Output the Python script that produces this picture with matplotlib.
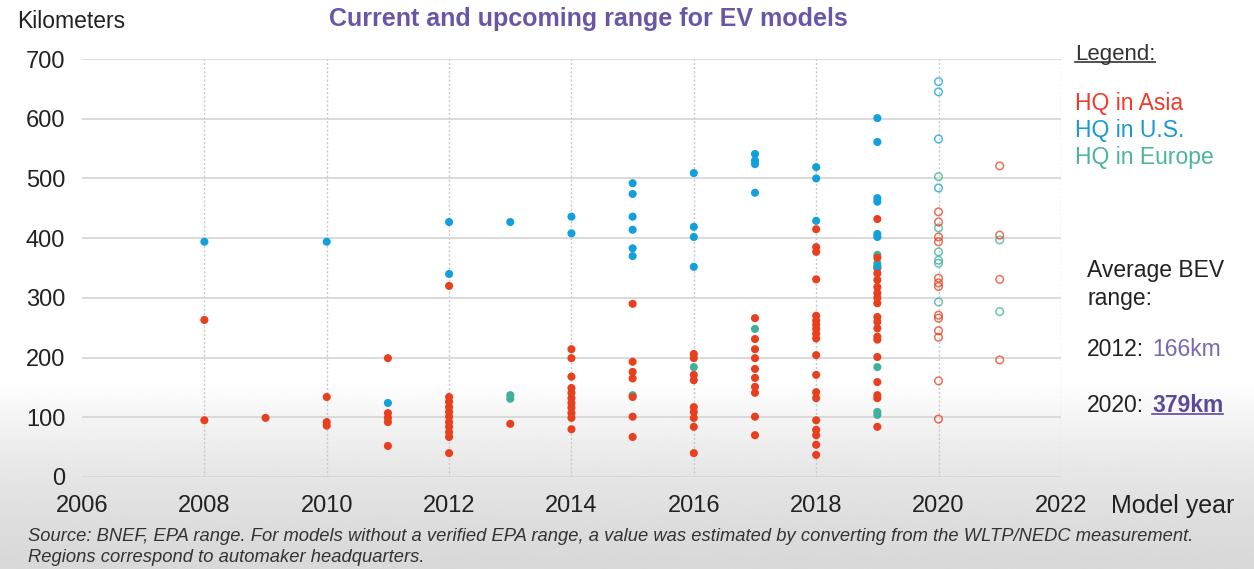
import numpy as np
import matplotlib.pyplot as plt
from matplotlib.lines import Line2D

# Range (km) per model year, by automaker HQ region
asia_now = {2008: [263, 95], 2009: [99], 2010: [134, 92, 86],
            2011: [199, 107, 99, 92, 52],
            2012: [320, 134, 126, 117, 109, 101, 92, 84, 75, 67, 40],
            2013: [89],
            2014: [214, 199, 168, 149, 141, 132, 124, 116, 107, 99, 80],
            2015: [290, 193, 176, 165, 134, 101, 67],
            2016: [206, 199, 171, 162, 117, 109, 99, 84, 40],
            2017: [266, 231, 214, 199, 181, 166, 151, 141, 101, 70],
            2018: [415, 385, 377, 331, 270, 262, 255, 248, 240, 232, 204,
                   171, 142, 132, 95, 79, 70, 54, 37],
            2019: [432, 367, 350, 341, 330, 318, 308, 300, 291, 268, 260,
                   249, 235, 230, 201, 159, 137, 132, 84]}
us_now = {2008: [394], 2010: [394], 2011: [124], 2012: [427, 340],
          2013: [427], 2014: [436, 408],
          2015: [492, 474, 436, 414, 383, 370],
          2016: [509, 419, 402, 352], 2017: [541, 530, 524, 476],
          2018: [519, 500, 429],
          2019: [601, 561, 467, 461, 407, 402, 353]}
europe_now = {2013: [137, 131], 2015: [137], 2016: [184], 2017: [248],
              2019: [372, 358, 184, 109, 104]}

# upcoming models (hollow markers)
asia_next = {2020: [444, 427, 402, 394, 333, 325, 319, 271, 266, 245, 234, 161, 97],
             2021: [521, 405, 331, 196]}
us_next = {2020: [662, 645, 566, 484]}
europe_next = {2020: [503, 417, 377, 363, 358, 293], 2021: [397, 277]}

red, blue, teal = '#e8401f', '#12a0dc', '#3fb09c'
purple = '#6a56a8'


def flat(d):
    xs = [y for y, vals in d.items() for _ in vals]
    ys = [v for vals in d.values() for v in vals]
    return xs, ys


plt.rcParams['font.family'] = ['Liberation Sans', 'DejaVu Sans']

fig = plt.figure(figsize=(12.54, 5.69), dpi=100)

# soft grey shading towards the bottom
bg = fig.add_axes([0, 0, 1, 1], zorder=-10)
grad = np.ones((200, 1))
t = np.linspace(0, 1, 200)
grad[:, 0] = np.where(t < 0.33, 0.85 + 0.15 * (t / 0.33) ** 1.5, 1.0)
bg.imshow(grad, cmap='gray', vmin=0, vmax=1, aspect='auto',
          extent=[0, 1, 0, 1], origin='lower')
bg.axis('off')

ax = fig.add_axes([0.0654, 0.1617, 0.7806, 0.7346])
ax.patch.set_alpha(0)

for d, c in [(europe_now, teal), (asia_now, red), (us_now, blue)]:
    xs, ys = flat(d)
    ax.scatter(xs, ys, s=34, color=c, edgecolors='none', zorder=3)
for d, c in [(europe_next, teal), (asia_next, red), (us_next, blue)]:
    xs, ys = flat(d)
    ax.scatter(xs, ys, s=30, facecolors='none', edgecolors=c,
               linewidths=1.1, alpha=0.75, zorder=3)

ax.set_xlim(2006, 2022)
ax.set_ylim(0, 700)
ax.set_xticks(range(2006, 2023, 2))
ax.set_yticks(range(0, 701, 100))
ax.grid(axis='y', color='#d4d4d4', lw=1.2)
for yr in range(2008, 2023, 2):
    ax.axvline(yr, color='#c8c8c8', lw=1, ls=(0, (1.5, 1.5)), zorder=1)
for s in ax.spines.values():
    s.set_visible(False)
ax.tick_params(length=0, labelsize=17, colors='#222222')
ax.tick_params(axis='x', pad=13)
ax.tick_params(axis='y', pad=12)

fig.text(0.014, 0.962, 'Kilometers', fontsize=16.5, color='#222222',
         va='center')
fig.text(0.469, 0.966, 'Current and upcoming range for EV models',
         fontsize=18, weight='bold', color=purple, ha='center', va='center')
fig.text(0.886, 0.110, 'Model year', fontsize=18, color='#222222',
         va='center')

src = ('Source: BNEF, EPA range. For models without a verified EPA range, a value '
       'was estimated by converting from the WLTP/NEDC measurement.\n'
       'Regions correspond to automaker headquarters.')
fig.text(0.022, 0.039, src, fontsize=13.2, style='italic',
         color='#333333', va='center', linespacing=1.3)

legend_title = fig.text(0.857, 0.905, 'Legend:', fontsize=16, color='#333333',
                        va='center')
fig.text(0.857, 0.818, 'HQ in Asia', fontsize=16.5, color='#ee3b2a', va='center')
fig.text(0.857, 0.771, 'HQ in U.S.', fontsize=16.5, color='#1899d6', va='center')
fig.text(0.857, 0.724, 'HQ in Europe', fontsize=16.5, color='#4cb39c', va='center')

fig.text(0.867, 0.500, 'Average BEV\nrange:', fontsize=16.5, color='#222222',
         va='center', linespacing=1.3)
fig.text(0.867, 0.385, '2012:', fontsize=16.5, color='#222222', va='center')
fig.text(0.9187, 0.385, '166km', fontsize=16.5, color='#7a68b0', va='center')
fig.text(0.867, 0.288, '2020:', fontsize=16.5, color='#222222', va='center')
avg_2020 = fig.text(0.9187, 0.288, '379km', fontsize=16.5, weight='bold',
                    color='#5b4a9c', va='center')

# underline a couple of the labels
fig.canvas.draw()
inv = fig.transFigure.inverted()
for txt, col in [(legend_title, '#333333'), (avg_2020, '#5b4a9c')]:
    bb = txt.get_window_extent().transformed(inv)
    fig.add_artist(Line2D([bb.x0, bb.x1], [bb.y0 + 0.004, bb.y0 + 0.004],
                          color=col, lw=1.2, transform=fig.transFigure))

fig.savefig('out.png', dpi=100)
